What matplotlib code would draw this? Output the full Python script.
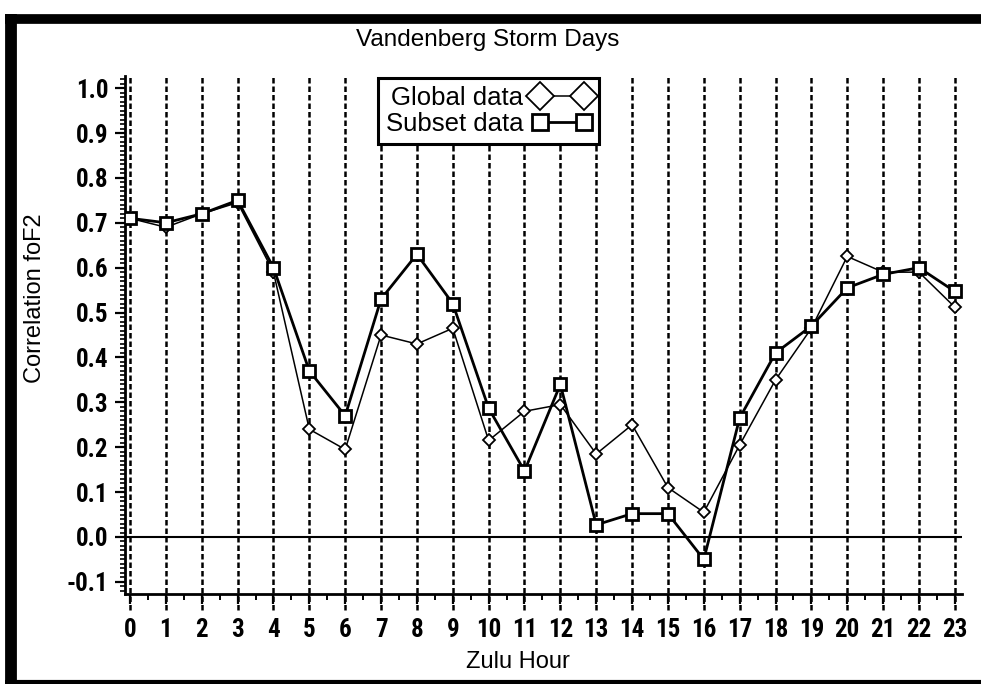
import matplotlib.pyplot as plt
from matplotlib.lines import Line2D
from matplotlib.ticker import MultipleLocator
from matplotlib import font_manager
import numpy as np

# Zulu hours and correlation values
hours = np.arange(0, 24)
global_corr = [0.71, 0.69, 0.72, 0.745, 0.59, 0.24, 0.195, 0.45, 0.43, 0.465,
               0.215, 0.28, 0.295, 0.185, 0.25, 0.11, 0.055, 0.205, 0.35, 0.465,
               0.625, 0.59, 0.59, 0.512]
subset_corr = [0.71, 0.70, 0.72, 0.75, 0.60, 0.37, 0.27, 0.53, 0.63, 0.52,
               0.287, 0.147, 0.34, 0.027, 0.052, 0.052, -0.05, 0.265, 0.41, 0.47,
               0.555, 0.585, 0.60, 0.547]
y_ticks = np.round(np.arange(-0.1, 1.01, 0.1), 1)

W, H = 981, 684
fig = plt.figure(figsize=(W / 100, H / 100), dpi=100)
ax = fig.add_axes([125 / W, 1 - 594 / H, 837 / W, 518 / H])

text_font = ['Liberation Sans', 'DejaVu Sans']

# pick a condensed bold face for the tick numbers if one is installed
tick_font, tick_size = ['Liberation Sans'], 15.5
for name in ['Roboto Condensed', 'Liberation Sans Narrow', 'DejaVu Sans Condensed',
             'Open Sans Condensed', 'Arial Narrow']:
    try:
        font_manager.findfont(font_manager.FontProperties(family=name, weight='bold'),
                              fallback_to_default=False)
        tick_font, tick_size = [name], 18
        break
    except Exception:
        pass

# dashed vertical lines at every hour, running a bit past the bottom axis
for h in hours:
    ax.axvline(h, ymin=-0.03, ymax=1, color='black', lw=1.8,
               ls=(0, (2.2, 1.2)), clip_on=False, zorder=1)
ax.axhline(0, color='black', lw=1.5, zorder=2)

ax.plot(hours, global_corr, color='black', lw=1.1, marker='D', ms=6.5,
        mfc='white', mec='black', mew=1.3, label='Global data', zorder=3)
ax.plot(hours, subset_corr, color='black', lw=2.0, marker='s', ms=9,
        mfc='white', mec='black', mew=2.0, label='Subset data', zorder=4)

ax.set_xlim(-0.14, 23.2)
ax.set_ylim(-0.127, 1.027)
ax.set_xticks(hours)
ax.set_yticks(y_ticks)
ax.set_yticklabels([f'{v:.1f}' for v in y_ticks])
ax.xaxis.set_minor_locator(MultipleLocator(0.5))
ax.yaxis.set_minor_locator(MultipleLocator(0.01))

for s in ['top', 'right']:
    ax.spines[s].set_visible(False)
for s in ['left', 'bottom']:
    ax.spines[s].set_linewidth(2)

ax.tick_params(axis='x', which='major', direction='out', length=7, width=1.6, pad=10)
ax.tick_params(axis='x', which='minor', direction='out', length=4.5, width=1.4)
ax.tick_params(axis='y', which='major', direction='out', length=7, width=1.6, pad=5)
ax.tick_params(axis='y', which='minor', direction='out', length=3.5, width=1.2)
for lab in ax.get_xticklabels() + ax.get_yticklabels():
    lab.set_fontfamily(tick_font)
    lab.set_fontweight('bold')
    lab.set_fontsize(tick_size)

ax.set_title('Vandenberg Storm Days', fontsize=17.5, family=text_font, pad=0,
             x=(488 - 125) / 837, y=(594 - 40) / 518, va='center')
ax.set_xlabel('Zulu Hour', fontsize=17, family=text_font)
ax.xaxis.set_label_coords((518 - 125) / 837, (594 - 662) / 518)
ax.xaxis.label.set_va('center')
ax.set_ylabel('Correlation foF2', fontsize=17, family=text_font)
ax.yaxis.set_label_coords((35 - 125) / 837, (594 - 298) / 518)
ax.yaxis.label.set_va('center')

leg = ax.legend(loc='upper left', bbox_to_anchor=((378 - 125) / 837, (594 - 78) / 518),
                markerfirst=False, numpoints=2, fancybox=False, framealpha=1,
                edgecolor='black', prop={'family': text_font, 'size': 18.5},
                borderpad=0.3, labelspacing=0.1, handlelength=2.3,
                handletextpad=0.35, borderaxespad=0)
leg.get_frame().set_linewidth(2.2)
leg.set_zorder(10)
leg.legend_handles[0].set_markersize(14)
leg.legend_handles[1].set_markersize(12)

# thick scanned-page frame around the figure
fig.add_artist(Line2D([11 / W, 11 / W], [0, 1 - 14 / H], transform=fig.transFigure,
                      color='black', lw=8.5, solid_capstyle='butt'))
fig.add_artist(Line2D([5 / W, 1], [1 - 19 / H, 1 - 19 / H], transform=fig.transFigure,
                      color='black', lw=7, solid_capstyle='butt'))
fig.add_artist(Line2D([5 / W, 1], [2.5 / H, 2.5 / H], transform=fig.transFigure,
                      color='black', lw=3, solid_capstyle='butt'))

fig.savefig('out.png', dpi=100)
